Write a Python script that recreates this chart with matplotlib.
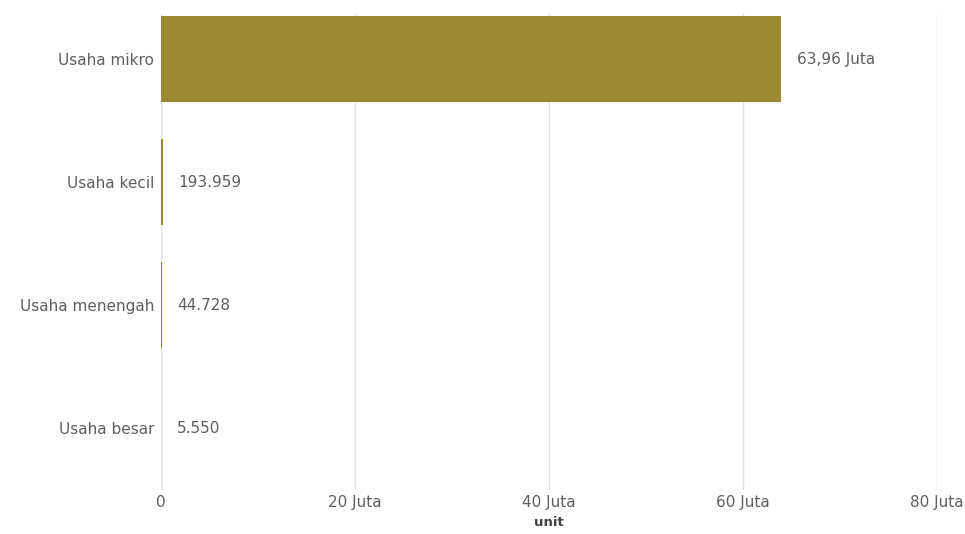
import matplotlib.pyplot as plt
from matplotlib.ticker import FuncFormatter

plt.rcParams['font.family'] = ['DejaVu Sans']

categories = ['Usaha mikro', 'Usaha kecil', 'Usaha menengah', 'Usaha besar']
units = [63960000, 193959, 44728, 5550]
value_labels = ['63,96 Juta', '193.959', '44.728', '5.550']

bar_color = '#9a8932'
text_color = '#5f5f5f'

fig = plt.figure(figsize=(9.65, 5.34), dpi=100)
ax = fig.add_axes([0.167, 0.083, 0.804, 0.891])

y = range(len(categories))
ax.barh(y, units, height=0.7, color=bar_color, zorder=2)
for i, (v, lab) in enumerate(zip(units, value_labels)):
    ax.annotate(lab, (v, i), xytext=(11, 0), textcoords='offset points',
                va='center', ha='left', fontsize=11, color=text_color)

ax.set_yticks(list(y))
ax.set_yticklabels(categories, fontsize=11, color=text_color)
ax.set_ylim(3.5, -0.37)
ax.set_xlim(0, 80000000)
ax.set_xticks([0, 20000000, 40000000, 60000000, 80000000])
ax.xaxis.set_major_formatter(FuncFormatter(lambda v, p: '0' if v == 0 else f'{v/1e6:.0f} Juta'))
ax.tick_params(axis='x', labelsize=11, labelcolor=text_color, length=0, pad=4)
ax.tick_params(axis='y', length=0, pad=5)
ax.grid(axis='x', color='#e0e0e0', linewidth=1, zorder=0)
for s in ax.spines.values():
    s.set_visible(False)
ax.axvline(0, color='#e0e0e0', linewidth=1, zorder=1)
ax.set_xlabel('unit', fontsize=9.5, fontweight='bold', color='#444444', labelpad=4)

fig.savefig('out.png', dpi=100)
